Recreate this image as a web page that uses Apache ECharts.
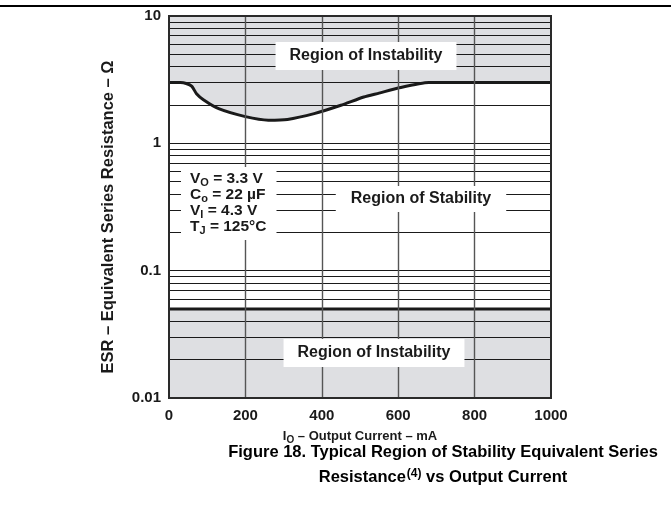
<!DOCTYPE html>
<html>
<head>
<meta charset="utf-8">
<script src="https://cdn.jsdelivr.net/npm/echarts@6/dist/echarts.min.js"></script>
<style>
html,body{margin:0;padding:0;background:#fff;}
#chart{width:671px;height:509px;}
</style>
</head>
<body>
<div id="chart"></div>
<script>
// ---- data ----
const currentMA = [0, 30, 45, 60, 72, 90, 130, 200, 260, 310, 380, 450, 510, 550, 600, 680, 1000];
const esrUpperBoundary = [3.0, 3.0, 2.95, 2.8, 2.45, 2.2, 1.87, 1.62, 1.52, 1.54, 1.71, 1.99, 2.31, 2.48, 2.72, 3.0, 3.0];
const lowerCurrentMA = [0, 1000];
const esrLowerBoundary = [0.05, 0.05];
const xTickValues = [0, 200, 400, 600, 800, 1000];
const yTickLabels = ['0.01', '0.1', '1', '10'];
const yGridValues = [0.02,0.03,0.04,0.05,0.06,0.07,0.08,0.09,0.1,
                     0.2,0.3,0.4,0.5,0.6,0.7,0.8,0.9,1,
                     2,3,4,5,6,7,8,9];
const xGridValues = [200, 400, 600, 800];
const conditions = ['V{s|O} = 3.3 V', 'C{s|o} = 22 \u00b5F', 'V{s|I} = 4.3 V', 'T{s|J} = 125\u00b0C'];

const FONT = "'Liberation Sans', Arial, Helvetica, sans-serif";
const GRAY = '#dedfe2';
const INK = '#1a1a1a';

const upperPts = currentMA.map((x, i) => [x, esrUpperBoundary[i]]);
const lowerPts = lowerCurrentMA.map((x, i) => [x, esrLowerBoundary[i]]);

const gridLines = [];
yGridValues.forEach(v => gridLines.push({yAxis: v, lineStyle: {color: INK, width: 1, type: 'solid'}}));
xGridValues.forEach(v => gridLines.push({xAxis: v, lineStyle: {color: '#555', width: 1.4, type: 'solid'}}));

const chart = echarts.init(document.getElementById('chart'), null, {renderer: 'canvas'});
const boxStyle = {
  font: 'bold 16px ' + FONT,
  fill: INK,
  backgroundColor: '#fff',
  align: 'center',
  verticalAlign: 'middle'
};
chart.setOption({
  animation: false,
  textStyle: {fontFamily: FONT},
  grid: {left: 169, right: 120, top: 16, bottom: 111, show: true, borderColor: '#2a2a2a', borderWidth: 2, backgroundColor: 'transparent', z: 20},
  xAxis: {
    type: 'value', min: 0, max: 1000, interval: 200,
    axisLine: {show: false}, axisTick: {show: false}, splitLine: {show: false},
    axisLabel: {margin: 10, color: INK, fontWeight: 'bold', fontSize: 15, fontFamily: FONT,
      formatter: v => xTickValues.includes(v) ? String(v) : ''},
    name: 'I{s|O} \u2013 Output Current \u2013 mA',
    nameLocation: 'middle', nameGap: 30,
    nameTextStyle: {color: INK, fontWeight: 'bold', fontSize: 13, fontFamily: FONT,
      rich: {s: {fontSize: 10, fontWeight: 'bold', color: INK, verticalAlign: 'bottom', padding: [7, 0, 0, 0], fontFamily: FONT}}}
  },
  yAxis: {
    type: 'log', logBase: 10, min: 0.01, max: 10,
    axisLine: {show: false}, axisTick: {show: false}, splitLine: {show: false}, minorSplitLine: {show: false},
    axisLabel: {margin: 8, color: INK, fontWeight: 'bold', fontSize: 15, fontFamily: FONT,
      formatter: v => { const s = String(+(+v).toPrecision(2)); return yTickLabels.includes(s) ? s : ''; }},
    name: 'ESR \u2013 Equivalent Series Resistance \u2013 \u03a9',
    nameLocation: 'middle', nameGap: 52,
    nameTextStyle: {color: INK, fontWeight: 'bold', fontSize: 16.5, fontFamily: FONT, padding: [0, 20, 0, 0]}
  },
  series: [
    {type: 'line', name: 'upperFill', data: upperPts, smooth: 0.2, showSymbol: false, silent: true, z: 1,
      lineStyle: {width: 0}, areaStyle: {color: GRAY, opacity: 1, origin: 'end'}},
    {type: 'line', name: 'lowerFill', data: lowerPts, showSymbol: false, silent: true, z: 1,
      lineStyle: {width: 0}, areaStyle: {color: GRAY, opacity: 1, origin: 'start'}},
    {type: 'line', name: 'grid', data: lowerPts, showSymbol: false, silent: true, z: 2,
      lineStyle: {width: 0, opacity: 0},
      markLine: {silent: true, symbol: ['none', 'none'], label: {show: false}, animation: false,
        emphasis: {disabled: true}, data: gridLines}},
    {type: 'line', name: 'upper', data: upperPts, smooth: 0.2, showSymbol: false, silent: true, z: 3,
      lineStyle: {color: INK, width: 3}},
    {type: 'line', name: 'lower', data: lowerPts, showSymbol: false, silent: true, z: 3,
      lineStyle: {color: INK, width: 3}}
  ],
  graphic: [
    {type: 'line', z: 50, shape: {x1: 0, y1: 6, x2: 671, y2: 6}, style: {stroke: '#000', lineWidth: 2}},
    {type: 'text', z: 50, x: 366, y: 56, style: Object.assign({}, boxStyle, {text: 'Region of Instability', padding: [6, 14, 6, 14]})},
    {type: 'text', z: 50, x: 374, y: 353, style: Object.assign({}, boxStyle, {text: 'Region of Instability', padding: [6, 14, 6, 14]})},
    {type: 'text', z: 50, x: 421, y: 199, style: Object.assign({}, boxStyle, {text: 'Region of Stability', padding: [5, 15, 5, 15]})},
    {type: 'text', z: 50, x: 181, y: 167, style: {
      text: conditions.join('\n'),
      font: 'bold 15.5px ' + FONT, fill: INK, backgroundColor: '#fff',
      lineHeight: 16, padding: [4, 10, 5, 9], align: 'left', verticalAlign: 'top',
      rich: {s: {fontSize: 11, fontWeight: 'bold', fontFamily: FONT, fill: INK, lineHeight: 16, padding: [7, 0, 0, 0]}}
    }},
    {type: 'text', z: 50, x: 443, y: 440, style: {
      text: 'Figure 18. Typical Region of Stability Equivalent Series\nResistance{p|(4)} vs Output Current',
      font: 'bold 16.5px ' + FONT, fill: '#000', align: 'center', verticalAlign: 'top', lineHeight: 25,
      rich: {p: {fontSize: 12, fontWeight: 'bold', fontFamily: FONT, fill: '#000', lineHeight: 25, padding: [0, 0, 8, 1]}}
    }}
  ]
});
</script>
</body>
</html>
